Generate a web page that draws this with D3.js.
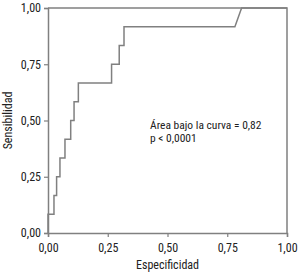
<!DOCTYPE html>
<html>
<head>
<meta charset="utf-8">
<script src="https://cdn.jsdelivr.net/npm/d3@7"></script>
<style>
  body { margin: 0; background: #fff; }
  text { font-family: "Liberation Sans Narrow", "Roboto Condensed", "Liberation Sans", sans-serif; fill: #222; }
</style>
</head>
<body>
<div id="chart"></div>
<script>
// ROC curve points (1 - specificity, sensitivity)
const fpr = [0, 0, 0.025, 0.025, 0.036, 0.036, 0.05, 0.05, 0.071, 0.071, 0.095, 0.095,
             0.109, 0.109, 0.127, 0.127, 0.266, 0.266, 0.298, 0.298, 0.318, 0.318,
             0.782, 0.81, 1];
const tpr = [0, 0.083, 0.083, 0.167, 0.167, 0.25, 0.25, 0.333, 0.333, 0.417, 0.417, 0.5,
             0.5, 0.583, 0.583, 0.667, 0.667, 0.75, 0.75, 0.833, 0.833, 0.917,
             0.917, 1, 1];
const ticks = [0, 0.25, 0.5, 0.75, 1];
const note = ["Área bajo la curva = 0,82", "p < 0,0001"];

const width = 300, height = 274;
const fmt = d => d3.format(".2f")(d).replace(".", ",");

const svg = d3.select("#chart").append("svg")
    .attr("width", width)
    .attr("height", height);

const x = d3.scaleLinear().domain([0, 1]).range([48, 287]);
const y = d3.scaleLinear().domain([0, 1]).range([233, 8]);

const grey = "#808080";

// top and right frame
svg.append("path")
    .attr("d", `M${x(0)},${y(1)}H${x(1)}V${y(0)}`)
    .attr("fill", "none")
    .attr("stroke", grey)
    .attr("stroke-width", 1.5);

// axes
const xAxis = svg.append("g")
    .attr("transform", `translate(0,${y(0)})`)
    .call(d3.axisBottom(x).tickValues(ticks).tickFormat(fmt).tickSizeOuter(0).tickSize(4).tickPadding(6));
const yAxis = svg.append("g")
    .attr("transform", `translate(${x(0)},0)`)
    .call(d3.axisLeft(y).tickValues(ticks).tickFormat(fmt).tickSizeOuter(0).tickSize(4).tickPadding(3));

[xAxis, yAxis].forEach(a => {
    a.select(".domain").attr("stroke", grey).attr("stroke-width", 1.5);
    a.selectAll(".tick line").attr("stroke", grey).attr("stroke-width", 1.2);
    a.selectAll(".tick text").attr("font-size", 12).attr("fill", "#222")
        .attr("font-family", null);
});

// curve
const pts = fpr.map((v, i) => [v, tpr[i]]);
svg.append("path")
    .datum(pts)
    .attr("d", d3.line().x(d => x(d[0])).y(d => y(d[1])))
    .attr("fill", "none")
    .attr("stroke", grey)
    .attr("stroke-width", 1.5);

// annotation, one text per line
svg.selectAll(".note")
    .data(note)
    .enter()
    .append("text")
    .attr("class", "note")
    .attr("x", 150)
    .attr("y", (d, i) => 129 + i * 12.5)
    .attr("font-size", 11.5)
    .text(d => d);

// axis titles
svg.append("text")
    .attr("x", (x(0) + x(1)) / 2)
    .attr("y", 269)
    .attr("text-anchor", "middle")
    .attr("font-size", 12)
    .text("Especificidad");

svg.append("text")
    .attr("transform", `translate(12,${(y(0) + y(1)) / 2}) rotate(-90)`)
    .attr("text-anchor", "middle")
    .attr("font-size", 12)
    .text("Sensibilidad");
</script>
</body>
</html>
